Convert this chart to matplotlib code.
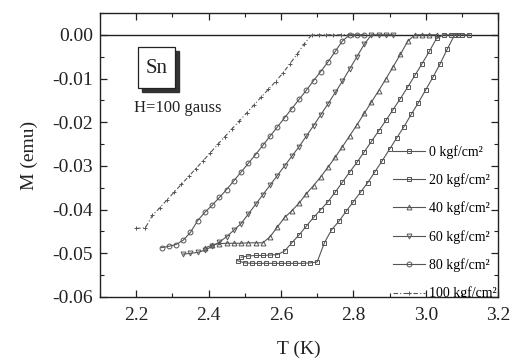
# Sn magnetization vs temperature under pressure
import matplotlib
matplotlib.use('Agg')
import matplotlib.pyplot as plt
from matplotlib.ticker import MultipleLocator, FormatStrFormatter
from matplotlib.patches import Rectangle

plt.rcParams['font.family'] = ['Liberation Serif', 'DejaVu Serif']
plt.rcParams['axes.unicode_minus'] = False

# data
T0 = [2.48, 2.50, 2.52, 2.54, 2.56, 2.58, 2.60, 2.62, 2.64, 2.66, 2.68, 2.70, 2.72, 2.74, 2.76, 2.78, 2.80,
      2.82, 2.84, 2.86, 2.88, 2.90, 2.92, 2.94, 2.96, 2.98, 3.00, 3.02, 3.04, 3.06, 3.08, 3.10, 3.12]
M0 = [-0.0517, -0.0522, -0.0523, -0.0523, -0.0523, -0.0523, -0.0523, -0.0523, -0.0523, -0.0523, -0.0522,
      -0.0520, -0.0476, -0.0446, -0.0427, -0.0404, -0.0382, -0.0360, -0.0338, -0.0313, -0.0288, -0.0262,
      -0.0236, -0.0210, -0.0182, -0.0155, -0.0126, -0.0097, -0.0066, -0.0032, 0.0, 0.0, 0.0]

T20 = [2.49, 2.51, 2.53, 2.55, 2.57, 2.59, 2.61, 2.63, 2.65, 2.67, 2.69, 2.71, 2.73, 2.75, 2.77, 2.79, 2.81,
       2.83, 2.85, 2.87, 2.89, 2.91, 2.93, 2.95, 2.97, 2.99, 3.01, 3.03, 3.05, 3.07, 3.09]
M20 = [-0.0509, -0.0506, -0.0505, -0.0505, -0.0504, -0.0503, -0.0495, -0.0476, -0.0458, -0.0438, -0.0418,
       -0.0400, -0.0382, -0.0360, -0.0337, -0.0314, -0.0292, -0.0268, -0.0244, -0.0220, -0.0196, -0.0171,
       -0.0146, -0.0120, -0.0093, -0.0066, -0.0038, -0.0008, 0.0, 0.0, 0.0]

T40 = [2.39, 2.41, 2.43, 2.45, 2.47, 2.49, 2.51, 2.53, 2.55, 2.57, 2.59, 2.61, 2.63, 2.65, 2.67, 2.69, 2.71,
       2.73, 2.75, 2.77, 2.79, 2.81, 2.83, 2.85, 2.87, 2.89, 2.91, 2.93, 2.95, 2.97, 2.99, 3.01, 3.03]
M40 = [-0.0488, -0.0481, -0.0478, -0.0477, -0.0477, -0.0477, -0.0476, -0.0476, -0.0476, -0.0462, -0.0440,
       -0.0418, -0.0403, -0.0385, -0.0364, -0.0345, -0.0325, -0.0303, -0.0280, -0.0256, -0.0231, -0.0206,
       -0.0180, -0.0154, -0.0128, -0.0101, -0.0073, -0.0045, -0.0015, 0.0, 0.0, 0.0, 0.0]

T60 = [2.33, 2.35, 2.37, 2.39, 2.41, 2.43, 2.45, 2.47, 2.49, 2.51, 2.53, 2.55, 2.57, 2.59, 2.61, 2.63, 2.65,
       2.67, 2.69, 2.71, 2.73, 2.75, 2.77, 2.79, 2.81, 2.83, 2.85, 2.87, 2.89, 2.91]
M60 = [-0.0502, -0.0500, -0.0498, -0.0493, -0.0484, -0.0474, -0.0462, -0.0447, -0.0432, -0.0410, -0.0388,
       -0.0366, -0.0344, -0.0322, -0.0300, -0.0278, -0.0256, -0.0232, -0.0208, -0.0183, -0.0158, -0.0132,
       -0.0106, -0.0078, -0.0050, -0.0022, 0.0, 0.0, 0.0, 0.0]

T80 = [2.27, 2.29, 2.31, 2.33, 2.35, 2.37, 2.39, 2.41, 2.43, 2.45, 2.47, 2.49, 2.51, 2.53, 2.55, 2.57, 2.59,
       2.61, 2.63, 2.65, 2.67, 2.69, 2.71, 2.73, 2.75, 2.77, 2.79, 2.81, 2.83]
M80 = [-0.0487, -0.0484, -0.0480, -0.0470, -0.0452, -0.0425, -0.0406, -0.0390, -0.0372, -0.0354, -0.0334,
       -0.0314, -0.0294, -0.0274, -0.0253, -0.0232, -0.0211, -0.0190, -0.0169, -0.0148, -0.0127, -0.0105,
       -0.0084, -0.0062, -0.0038, -0.0014, 0.0, 0.0, 0.0]

T100 = [2.20, 2.225, 2.245, 2.265, 2.285, 2.305, 2.325, 2.345, 2.365, 2.385, 2.405, 2.425, 2.445, 2.465,
        2.485, 2.505, 2.525, 2.545, 2.565, 2.585, 2.605, 2.625, 2.645, 2.665, 2.685, 2.705, 2.725, 2.745,
        2.765, 2.785, 2.80]
M100 = [-0.0443, -0.0442, -0.0413, -0.0396, -0.0378, -0.0360, -0.0342, -0.0324, -0.0306, -0.0288, -0.0270,
        -0.0251, -0.0233, -0.0215, -0.0197, -0.0179, -0.0161, -0.0143, -0.0125, -0.0107, -0.0088, -0.0066,
        -0.0044, -0.0020, 0.0, 0.0, 0.0, 0.0, 0.0, 0.0, 0.0]

labels = ['0 kgf/cm²', '20 kgf/cm²', '40 kgf/cm²', '60 kgf/cm²', '80 kgf/cm²', '100 kgf/cm²']

col = '#555555'

fig = plt.figure(figsize=(5.11, 3.6), dpi=100)
ax = fig.add_axes([0.1957, 0.175, 0.779, 0.789])

ax.axhline(0, color='#222222', lw=1.0, zorder=1)

kw = dict(color=col, lw=0.8, mfc='none', mew=0.7, zorder=2)
ax.plot(T0, M0, marker='s', ms=3.5, label=labels[0], **kw)
ax.plot(T20, M20, marker='s', ms=3.2, label=labels[1], **kw)
ax.plot(T40, M40, marker='^', ms=3.5, label=labels[2], **kw)
ax.plot(T60, M60, marker='v', ms=3.5, label=labels[3], **kw)
ax.plot(T80, M80, marker='o', ms=3.5, label=labels[4], **kw)
ax.plot(T100, M100, marker='+', ms=3, ls=(0, (4, 2, 1, 2)), label=labels[5], **kw)

ax.set_xlim(2.1, 3.2)
ax.set_ylim(-0.06, 0.005)
ax.xaxis.set_major_locator(MultipleLocator(0.2))
ax.xaxis.set_minor_locator(MultipleLocator(0.1))
ax.yaxis.set_major_locator(MultipleLocator(0.01))
ax.yaxis.set_minor_locator(MultipleLocator(0.005))
ax.xaxis.set_major_formatter(FormatStrFormatter('%.1f'))
ax.yaxis.set_major_formatter(FormatStrFormatter('%.2f'))

ax.tick_params(which='both', direction='in', top=True, right=True, colors='#222222', labelsize=14)
ax.tick_params(which='major', length=5, width=0.9)
ax.tick_params(which='minor', length=3, width=0.8)
ax.tick_params(axis='x', pad=7)
ax.tick_params(axis='y', pad=5)
for s in ax.spines.values():
    s.set_color('#222222')
    s.set_linewidth(1.0)

ax.set_xlabel('T (K)', fontsize=14, labelpad=12, color='#222222')
ax.set_ylabel('M (emu)', fontsize=14, labelpad=10, color='#222222')

# Sn label box with a drop shadow
ax.add_patch(Rectangle((0.1055, 0.722), 0.093, 0.144, transform=ax.transAxes,
                       fc='#333333', ec='#333333', zorder=3))
ax.add_patch(Rectangle((0.0955, 0.736), 0.093, 0.144, transform=ax.transAxes,
                       fc='white', ec='#222222', lw=0.9, zorder=4))
ax.text(0.142, 0.806, 'Sn', fontsize=15, ha='center', va='center', color='#222222',
        transform=ax.transAxes, zorder=5)
ax.text(2.195, -0.0167, 'H=100 gauss', fontsize=12, ha='left', va='center', color='#222222')

leg = ax.legend(loc='lower left', bbox_to_anchor=(0.735, -0.012), frameon=False, fontsize=10,
                borderpad=0, borderaxespad=0, handlelength=2.3, handletextpad=0.35, labelspacing=1.05)
# the last label is cut off by the frame in the original
for t in leg.get_texts():
    t.set_clip_on(True)
    t.set_clip_box(ax.bbox)

fig.savefig('out.png', dpi=100)
